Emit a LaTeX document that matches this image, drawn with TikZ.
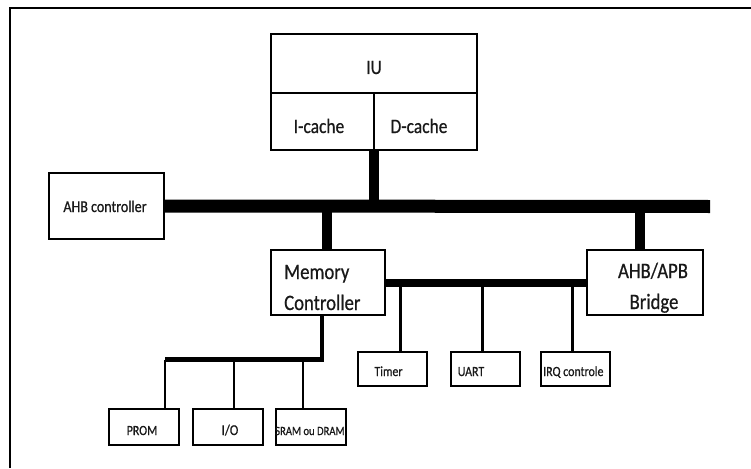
\documentclass[tikz,border=0pt]{standalone}
\usepackage{fontspec}
\setmainfont{Carlito}[FakeStretch=0.85, FakeBold=0.6]
\usepackage{tikz}
\usetikzlibrary{calc}
\usetikzlibrary{positioning}

\tikzset{
	frame/.style={black, line width=2.3pt},
	box/.style={draw=black, line width=2pt, fill=white, inner sep=0pt, outer sep=0pt},
	mainbus/.style={black, line width=13pt},
	ahbdrop/.style={black, line width=10pt},
	apbbus/.style={black, line width=8pt},
	apbdrop/.style={black, line width=3pt},
	membus/.style={black, line width=4.5pt, line join=miter},
	memdrop/.style={black, line width=2pt},
	lbl/.style={text=black!90, inner sep=0pt, anchor=base},
}
\newcommand{\fsz}[1]{\fontsize{#1}{#1}\selectfont}

\begin{document}
\begin{tikzpicture}[x=1pt, y=-1pt, line cap=butt]
			
			\useasboundingbox (0,0) rectangle (751,468);
			
			% Page frame, only top and left edges
			\draw[frame] (10,468) -- (10,8) -- (751,8);
			
			% Buses first, boxes on top
			\coordinate (busend) at (710,206.5);
			\coordinate (mcup) at (327,206.5);
			\coordinate (brup) at (640,206.5);
			\coordinate (tmr) at (400.5,283);
			\coordinate (urt) at (482.3,283);
			\coordinate (irqd) at (572.7,283);
			\coordinate (mbus) at (322,359.5);
			\coordinate (pdrop) at (165,359.5);
			\coordinate (iodrop) at (234,359.5);
			\coordinate (srdrop) at (302.5,359.5);
			
			% IU with caches
			\node[box, minimum width=206pt, minimum height=59pt] (iu) at (374,63.5) {};
			\node[box, minimum width=103pt, minimum height=57pt] (icache) at (322.5,121.5) {};
			\node[box, minimum width=103pt, minimum height=57pt] (dcache) at (425.5,121.5) {};
			\node[lbl, font=\fsz{20.5}] (iutxt) at (374,74) {IU};
			\node[lbl, font=\fsz{20.5}] (ictxt) at (319,133) {I-cache};
			\node[lbl, font=\fsz{20.5}] (dctxt) at (419,133) {D-cache};
			
			% AHB side
			\node[box, minimum width=115pt, minimum height=66pt] (ahbc) at (106.5,206) {};
			\node[lbl, font=\fsz{16.5}] (ahbtxt) at (105,212) {AHB controller};
			\node[box, minimum width=114pt, minimum height=65pt] (mc) at (328,282.5) {};
			\node[lbl, anchor=base west, font=\fsz{22}] (mctxt1) at (284,279) {Memory};
			\node[lbl, anchor=base west, font=\fsz{22}] (mctxt2) at (284,310) {Controller};
			\node[box, minimum width=116pt, minimum height=65pt] (bridge) at (645,282.5) {};
			\node[lbl, font=\fsz{22}] (brtxt1) at (653,278) {AHB/APB};
			\node[lbl, font=\fsz{22}] (brtxt2) at (654,309) {Bridge};
			
			% APB peripherals
			\node[box, minimum width=69pt, minimum height=34pt] (timer) at (392.5,369) {};
			\node[box, minimum width=69pt, minimum height=34pt] (uart) at (485.5,369) {};
			\node[box, minimum width=69pt, minimum height=34pt] (irq) at (575.5,369) {};
			\node[lbl, font=\fsz{14}] (tmrtxt) at (388.5,376) {Timer};
			\node[lbl, font=\fsz{14}] (urttxt) at (471,376) {UART};
			\node[lbl, anchor=base west, font=\fsz{14}] (irqtxt) at (543,376) {IRQ controle};
			
			% Memories
			\node[box, minimum width=70pt, minimum height=36pt] (prom) at (144,427) {};
			\node[box, minimum width=70pt, minimum height=36pt] (io) at (228,427) {};
			\node[box, minimum width=70pt, minimum height=36pt] (sram) at (311,427) {};
			\node[lbl, font=\fsz{14}] (promtxt) at (142,435) {PROM};
			\node[lbl, font=\fsz{15}] (iotxt) at (230,435) {I/O};
			\node[lbl, anchor=base west, font=\fsz{12.5}] (sramtxt) at (275,435) {SRAM ou DRAM};
			
			% AHB bus and its taps
			\draw[mainbus] (ahbc.east) -- (busend);
			\draw[ahbdrop] (icache.south east) -- (icache.south east |- busend);
			\draw[ahbdrop] (mcup) -- (mcup |- mc.north);
			\draw[ahbdrop] (brup) -- (brup |- bridge.north);
			
			% APB bus
			\draw[apbbus] (mc.east) -- (bridge.west);
			\draw[apbdrop] (tmr) -- (tmr |- timer.north);
			\draw[apbdrop] (urt) -- (urt |- uart.north);
			\draw[apbdrop] (irqd) -- (irqd |- irq.north);
			
			% Memory bus
			\draw[membus] (mbus |- mc.south) -- (mbus) -- (pdrop);
			\draw[memdrop] (pdrop) -- (pdrop |- prom.north);
			\draw[memdrop] (iodrop) -- (iodrop |- io.north);
			\draw[memdrop] (srdrop) -- (srdrop |- sram.north);
			
		\end{tikzpicture}
\end{document}
